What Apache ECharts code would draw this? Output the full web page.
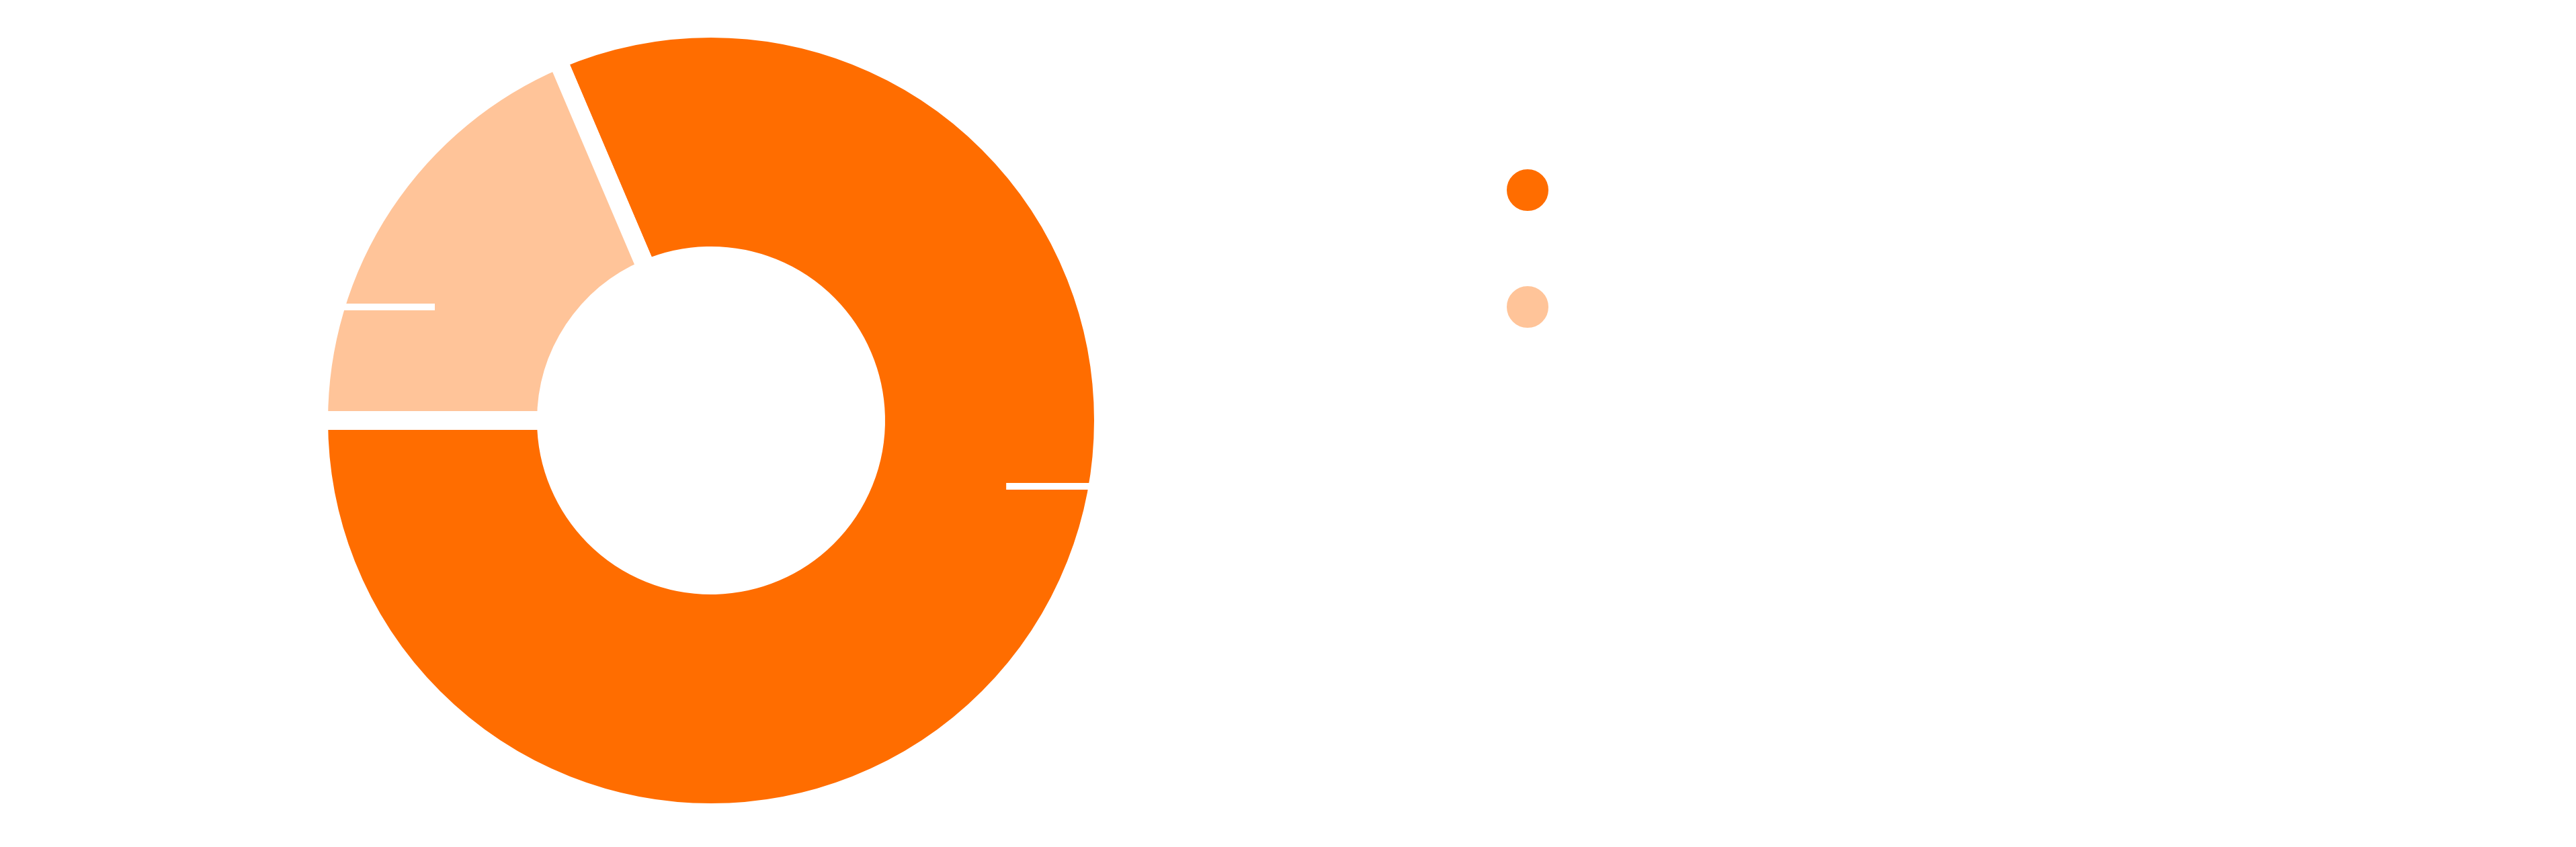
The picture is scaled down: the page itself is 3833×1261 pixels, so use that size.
<!DOCTYPE html>
<html><head><meta charset="utf-8">
<script src="https://cdn.jsdelivr.net/npm/echarts@6/dist/echarts.min.js"></script>
<style>html,body{margin:0;padding:0;background:#fff}#c{width:3833px;height:1261px}</style>
</head><body><div id="c"></div>
<script>
// data
const names = ['Completed', 'Remaining'];
const values = [81.4, 18.6];
const colors = ['#ff6d00', '#ffc499'];
// label anchor layout (fractions of chart size)
const labelX = ['39.06%', '16.88%'];
const labelY = ['57.41%', '36.24%'];
const labelAlign = ['right', 'left'];

const chart = echarts.init(document.getElementById('c'));
chart.setOption({
  backgroundColor: '#fff',
  animation: false,
  color: colors,
  legend: {
    orient: 'vertical', left: 2235, top: 245,
    icon: 'circle', itemWidth: 64, itemHeight: 64, itemGap: 108,
    textStyle: { color: '#fff', fontSize: 50 },
    data: names
  },
  series: [{
    type: 'pie',
    center: [1058, 626],
    radius: [245, 584],
    startAngle: 180,
    clockwise: false,
    itemStyle: { borderColor: '#fff', borderWidth: 28 },
    label: { show: true, color: 'transparent', fontSize: 60, formatter: '{b}: {c} ({d}%)' },
    labelLine: { show: true, showAbove: true, length2: 150, minTurnAngle: 1, lineStyle: { color: '#fff', width: 10 } },
    labelLayout: function (p) {
      return { x: labelX[p.dataIndex], y: labelY[p.dataIndex], align: labelAlign[p.dataIndex], verticalAlign: 'middle' };
    },
    data: names.map((n, i) => ({ name: n, value: values[i] }))
  }]
});
</script></body></html>
